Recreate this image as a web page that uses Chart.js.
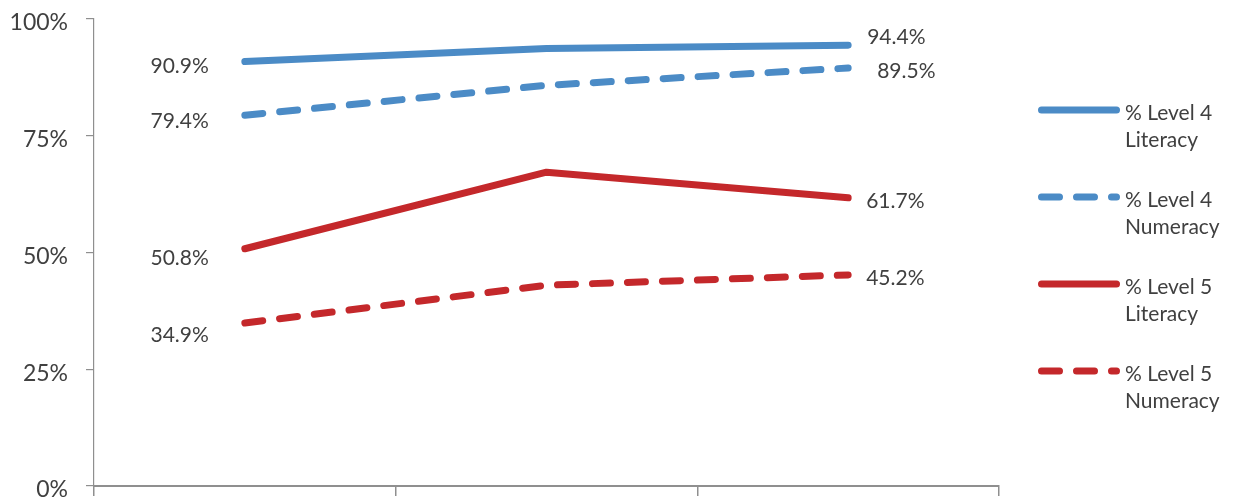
<!DOCTYPE html>
<html>
<head>
<meta charset="utf-8">
<script src="https://cdn.jsdelivr.net/npm/chart.js@4.4.1/dist/chart.umd.min.js"></script>
<style>
  html, body { margin: 0; padding: 0; background: #ffffff; }
  #wrap { width: 1236px; height: 502px; }
</style>
</head>
<body>
<div id="wrap"><canvas id="c" width="1236" height="502"></canvas></div>
<script>
// Three assessment points; the category axis carries no printed labels.
const categories = ['', '', ''];

const level4Literacy = [90.9, 93.7, 94.4];
const level4Numeracy = [79.4, 85.8, 89.5];
const level5Literacy = [50.8, 67.2, 61.7];
const level5Numeracy = [34.9, 43.0, 45.2];

const seriesNames = [
  '% Level 4 Literacy',
  '% Level 4 Numeracy',
  '% Level 5 Literacy',
  '% Level 5 Numeracy'
];

const yTicks = [0, 25, 50, 75, 100];

const BLUE = '#4b8bc6';
const RED = '#c4282b';
const TEXT = '#404040';
const AXIS = '#8f8f8f';
const FONT = 'Lato, "Open Sans", sans-serif';

function series(label, data, color, dashed) {
  return {
    label: label,
    data: data,
    borderColor: color,
    backgroundColor: color,
    borderWidth: 7,
    borderCapStyle: 'round',
    borderJoinStyle: 'round',
    borderDash: dashed ? [18, 17] : [],
    pointRadius: 0,
    pointHoverRadius: 0,
    tension: 0,
    fill: false
  };
}

// Value labels beside the first and last point of every line.
const endLabels = {
  id: 'endLabels',
  afterDatasetsDraw(chart, args, opts) {
    const ctx = chart.ctx;
    ctx.save();
    ctx.font = opts.font;
    ctx.fillStyle = opts.color;
    ctx.textBaseline = 'middle';
    chart.data.datasets.forEach((ds, i) => {
      const meta = chart.getDatasetMeta(i);
      const n = ds.data.length;
      const first = meta.data[0];
      const last = meta.data[n - 1];
      ctx.textAlign = 'right';
      ctx.fillText(ds.data[0].toFixed(1) + '%', first.x - opts.leftGap, first.y + opts.leftDy[i]);
      ctx.textAlign = 'left';
      ctx.fillText(ds.data[n - 1].toFixed(1) + '%', last.x + opts.rightGap[i], last.y + opts.rightDy[i]);
    });
    ctx.restore();
  }
};

// Right-hand legend with two-line entries.
const sideLegend = {
  id: 'sideLegend',
  afterDraw(chart, args, opts) {
    const ctx = chart.ctx;
    ctx.save();
    chart.data.datasets.forEach((ds, i) => {
      const y = opts.top + i * opts.step;
      ctx.beginPath();
      ctx.strokeStyle = ds.borderColor;
      ctx.lineWidth = ds.borderWidth;
      ctx.lineCap = 'round';
      ctx.setLineDash(ds.borderDash || []);
      ctx.moveTo(opts.lineFrom + 3.5, y);
      ctx.lineTo(opts.lineTo - 3.5, y);
      ctx.stroke();
      ctx.setLineDash([]);
      const words = ds.label.split(' ');
      const line2 = words.pop();
      const line1 = words.join(' ');
      ctx.font = opts.font;
      ctx.fillStyle = opts.color;
      ctx.textAlign = 'left';
      ctx.textBaseline = 'middle';
      ctx.fillText(line1, opts.textX, y + 3);
      ctx.fillText(line2, opts.textX, y + 3 + opts.lineHeight);
    });
    ctx.restore();
  }
};

new Chart(document.getElementById('c'), {
  type: 'line',
  data: {
    labels: categories,
    datasets: [
      series(seriesNames[0], level4Literacy, BLUE, false),
      series(seriesNames[1], level4Numeracy, BLUE, true),
      series(seriesNames[2], level5Literacy, RED, false),
      series(seriesNames[3], level5Numeracy, RED, true)
    ]
  },
  options: {
    responsive: false,
    devicePixelRatio: 1,
    animation: false,
    layout: { padding: { top: 19, right: 237, bottom: 0, left: 0 } },
    plugins: {
      legend: { display: false },
      tooltip: { enabled: false },
      endLabels: {
        font: '21px ' + FONT,
        color: TEXT,
        leftGap: 36,
        leftDy: [5, 6, 9, 12],
        rightGap: [19, 29, 18, 18],
        rightDy: [-8, 3, 3, 3]
      },
      sideLegend: {
        top: 110,
        step: 87,
        lineFrom: 1038,
        lineTo: 1120,
        textX: 1125,
        lineHeight: 27,
        font: '21px ' + FONT,
        color: TEXT
      }
    },
    scales: {
      x: {
        type: 'category',
        offset: true,
        afterFit(scale) { scale.height = 16; },
        grid: {
          offset: true,
          drawOnChartArea: false,
          drawTicks: true,
          tickLength: 10,
          color: AXIS,
          lineWidth: 1.5
        },
        border: { display: true, color: AXIS, width: 2 },
        ticks: { display: false }
      },
      y: {
        min: 0,
        max: 100,
        afterFit(scale) {
          scale.width = 94;
          scale.paddingTop = 0;
          scale.paddingBottom = 0;
        },
        afterBuildTicks(scale) { scale.ticks = yTicks.map(v => ({ value: v })); },
        grid: {
          drawOnChartArea: false,
          drawTicks: true,
          tickLength: 8,
          color: AXIS,
          lineWidth: 1.2
        },
        border: { display: true, color: AXIS, width: 1.2 },
        ticks: {
          padding: 18,
          labelOffset: 4,
          color: TEXT,
          font: { family: FONT, size: 23 },
          callback: v => v + '%'
        }
      }
    }
  },
  plugins: [endLabels, sideLegend]
});
</script>
</body>
</html>
